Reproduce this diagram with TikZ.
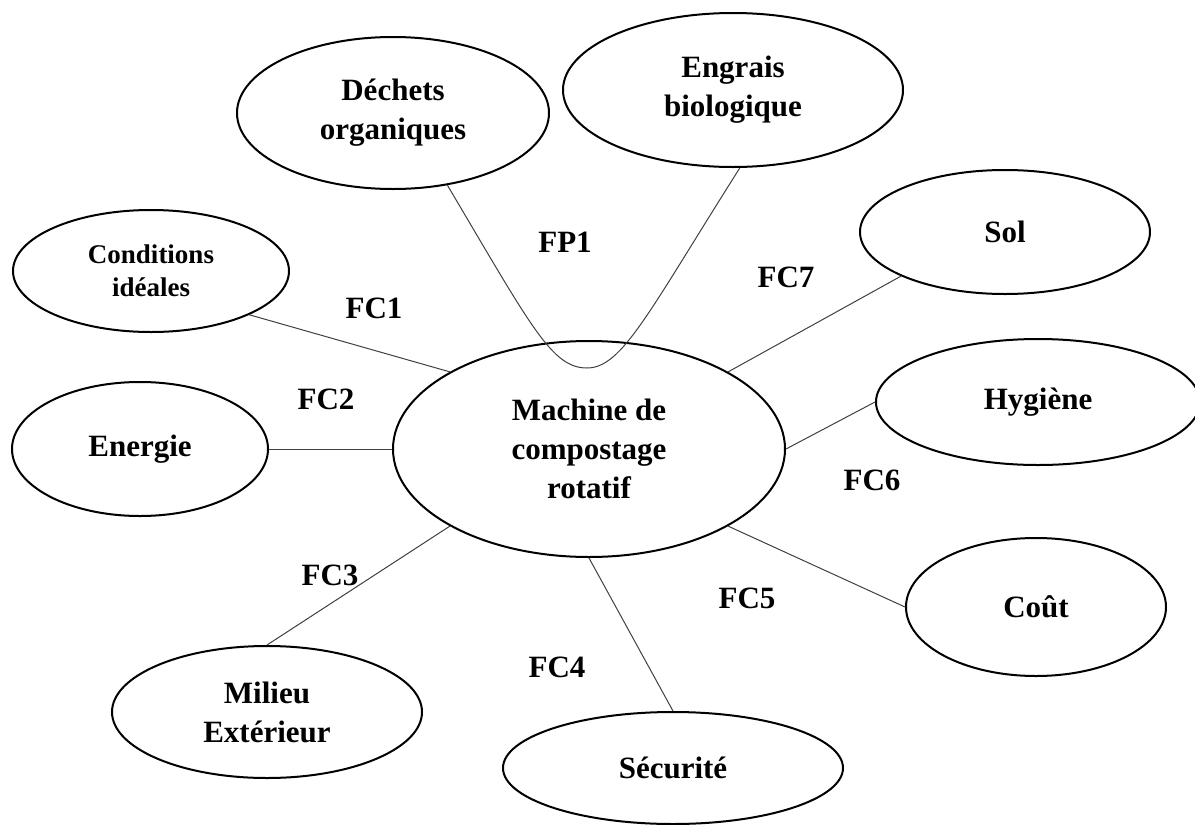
\documentclass[tikz,border=0pt]{standalone}
\usepackage{fontspec}
\setmainfont{Liberation Serif}
\usetikzlibrary{shapes.geometric}

\tikzset{
  bloc/.style={ellipse, draw, line width=2pt, inner sep=0pt, align=center,
    font=\bfseries\fontsize{31}{39}\selectfont},
  liaison/.style={line width=1pt, black!75},
  fonction/.style={font=\bfseries\fontsize{31}{39}\selectfont}
}

\begin{document}
\begin{tikzpicture}[x=1pt,y=-1pt]
\useasboundingbox (0,0) rectangle (1195,825);

% produit au centre
\node[bloc, minimum width=392pt, minimum height=216pt] (machine) at (589,449)
{Machine de\\compostage\\rotatif};

% milieu exterieur
\node[bloc, minimum width=312pt, minimum height=152pt] (dechets) at (393,113) {D\'echets\\organiques};
\node[bloc, minimum width=340pt, minimum height=154pt] (engrais) at (733,90) {Engrais\\biologique};
\node[bloc, minimum width=276pt, minimum height=122pt,
  font=\bfseries\fontsize{27}{33}\selectfont] (conditions) at (151,271) {Conditions\\id\'eales};
\node[bloc, minimum width=256pt, minimum height=134pt] (energie) at (140,449) {Energie};
\node[bloc, minimum width=310pt, minimum height=132pt] (milieu) at (267,712) {Milieu\\Ext\'erieur};
\node[bloc, minimum width=340pt, minimum height=112pt] (securite) at (673,768) {S\'ecurit\'e};
\node[bloc, minimum width=260pt, minimum height=138pt] (cout) at (1036,607) {Co\^ut};
\node[bloc, minimum width=324pt, minimum height=126pt] (hygiene) at (1038,402) {Hygi\`ene};
\node[bloc, minimum width=290pt, minimum height=124pt] (sol) at (1005,232) {Sol};

% fonction principale
\coordinate (fond) at (587,368);
\draw[liaison] (dechets.-53) .. controls (532,328) and (552,368) .. (fond)
  .. controls (622,368) and (648,313) .. (engrais.-85);

% fonctions contraintes
\draw[liaison] (conditions.-24) -- (machine.151);
\draw[liaison] (energie.east) -- (machine.west);
\draw[liaison] (milieu.north) -- (machine.-151);
\draw[liaison] (securite.north) -- (machine.south);
\draw[liaison] (cout.west) -- (machine.-29);
\draw[liaison] (hygiene.west) -- (machine.east);
\draw[liaison] (sol.-157) -- (machine.29);

\node[fonction] (fp1) at (565,242) {FP1};
\node[fonction] (fc1) at (374,308) {FC1};
\node[fonction] (fc2) at (326,399) {FC2};
\node[fonction] (fc3) at (330,575) {FC3};
\node[fonction] (fc4) at (557,667) {FC4};
\node[fonction] (fc5) at (747,598) {FC5};
\node[fonction] (fc6) at (872,480) {FC6};
\node[fonction] (fc7) at (786,277) {FC7};
\end{tikzpicture}
\end{document}
